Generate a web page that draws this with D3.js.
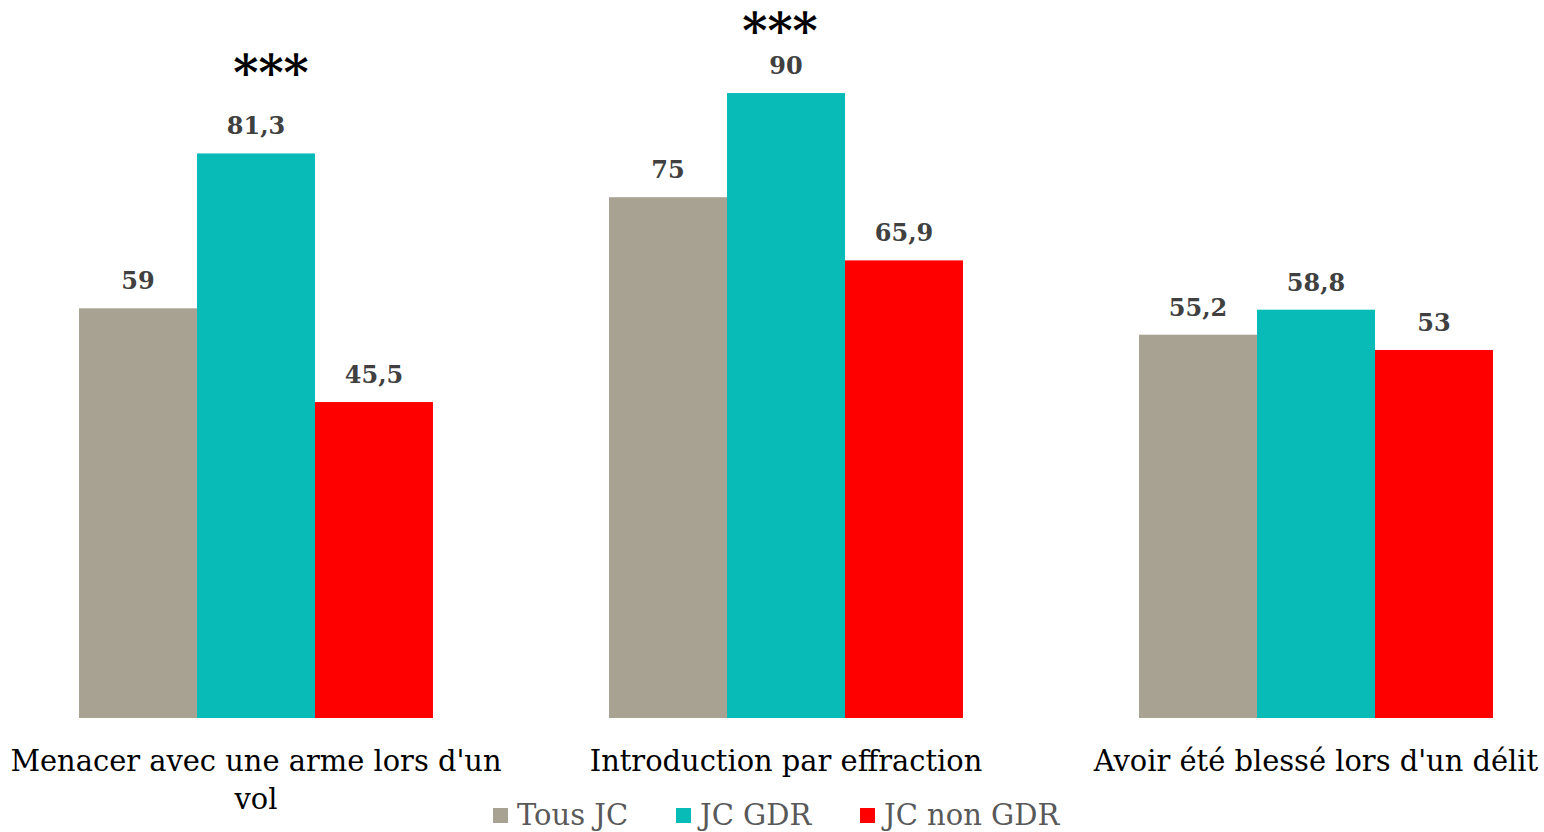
<!DOCTYPE html>
<html><head><meta charset="utf-8">
<script src="https://cdn.jsdelivr.net/npm/d3@7"></script>
<style>body{margin:0;background:#fff}svg{display:block}</style>
</head><body><svg id="c" width="1544" height="832"></svg>
<script>
const categories = ["Menacer avec une arme lors d'un vol", "Introduction par effraction", "Avoir été blessé lors d'un délit"];
const seriesNames = ["Tous JC", "JC GDR", "JC non GDR"];
const tousJC = [59, 75, 55.2];
const jcGDR = [81.3, 90, 58.8];
const jcNonGDR = [45.5, 65.9, 53];
const significance = ["***", "***", ""];
const colors = ["#a8a292", "#09bbb6", "#ff0000"];

const svg = d3.select("#c");
const font = "'DejaVu Serif', serif";
const values = [tousJC, jcGDR, jcNonGDR];
const base = 718;
const y = d3.scaleLinear().domain([0, 100]).range([base, base - 694.4]);
const x0 = d3.scaleBand().domain(categories).range([-9, 1581]).padding(0);
const x1 = d3.scaleBand().domain(seriesNames).range([0, x0.bandwidth()]).paddingInner(0).paddingOuter(0.746);

const data = [];
categories.forEach((c, i) => seriesNames.forEach((s, j) => data.push({c, s, j, v: values[j][i]})));

svg.selectAll("rect.bar").data(data).join("rect").attr("class", "bar")
  .attr("x", d => x0(d.c) + x1(d.s)).attr("width", x1.bandwidth())
  .attr("y", d => y(d.v)).attr("height", d => base - y(d.v))
  .attr("fill", d => colors[d.j]);

const fmt = v => String(v).replace(".", ",");
svg.selectAll("text.val").data(data).join("text").attr("class", "val")
  .attr("x", d => x0(d.c) + x1(d.s) + x1.bandwidth() / 2)
  .attr("y", d => y(d.v) - 19)
  .attr("text-anchor", "middle").attr("font-family", font).attr("font-weight", "bold")
  .attr("font-size", 24).attr("fill", "#404040").text(d => fmt(d.v));

const starDx = [15, -6, 0];
const starDy = [-63, -45, 0];
svg.selectAll("text.sig").data(categories).join("text").attr("class", "sig")
  .attr("x", (c, i) => x0(c) + x1(seriesNames[1]) + x1.bandwidth() / 2 + starDx[i])
  .attr("y", (c, i) => y(jcGDR[i]) + starDy[i])
  .attr("text-anchor", "middle").attr("font-family", font).attr("font-weight", "bold")
  .attr("font-size", 48).attr("fill", "#000").text((c, i) => significance[i]);

// category labels with wrapping
const maxW = 500;
svg.selectAll("text.cat").data(categories).join("text").attr("class", "cat")
  .attr("font-family", font).attr("font-size", 28.9).attr("fill", "#000")
  .attr("text-anchor", "middle")
  .each(function(c) {
    const t = d3.select(this);
    const cx = x0(c) + x0.bandwidth() / 2;
    const words = c.split(" ");
    let lines = [], line = [];
    const tmp = t.append("tspan");
    words.forEach(w => {
      line.push(w);
      tmp.text(line.join(" "));
      if (tmp.node().getComputedTextLength() > maxW && line.length > 1) {
        line.pop(); lines.push(line.join(" ")); line = [w];
      }
    });
    lines.push(line.join(" "));
    tmp.remove();
    lines.forEach((l, k) => t.append("tspan").attr("x", cx).attr("y", 771 + k * 38).text(l));
  });

// legend
const legX = [493, 676, 860];
const lg = svg.selectAll("g.leg").data(seriesNames).join("g").attr("class", "leg")
  .attr("transform", (d, i) => `translate(${legX[i]},808)`);
lg.append("rect").attr("width", 15).attr("height", 15).attr("fill", (d, i) => colors[i]);
lg.append("text").attr("x", 24).attr("y", 17).attr("font-family", font).attr("font-size", 29)
  .attr("fill", "#595959").text(d => d);
</script></body></html>
